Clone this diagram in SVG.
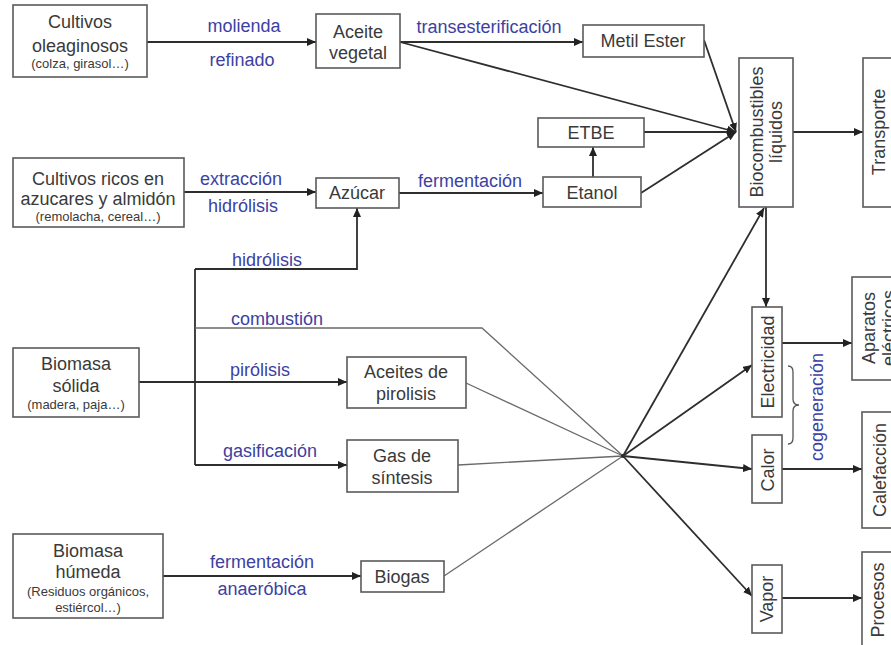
<svg xmlns="http://www.w3.org/2000/svg" width="891" height="645" viewBox="0 0 891 645">
<defs>
  <marker id="arr" viewBox="0 0 9 8" refX="9" refY="4" markerWidth="9" markerHeight="8" markerUnits="userSpaceOnUse" orient="auto">
    <path d="M0,0 L9,4 L0,8 z" fill="#222"/>
  </marker>
  <style>
    .box { fill: #fff; stroke: #5a5a5a; stroke-width: 1.6; }
    text { font-family: "Liberation Sans", Arial, Helvetica, sans-serif; font-size: 18px; fill: #3a3a3a; text-anchor: middle; }
    .s { font-size: 13px; }
    .lbl { fill: #3c41a3; }
    .ln { fill: none; stroke: #2e2e2e; stroke-width: 1.8; }
    .thin { fill: none; stroke: #6a6a6a; stroke-width: 1.3; }
  </style>
</defs>
<rect width="891" height="645" fill="#fff"/>

<!-- connectors -->
<g id="connectors">
  <!-- oil crops chain -->
  <line class="ln" x1="147" y1="42" x2="316" y2="42" marker-end="url(#arr)"/>
  <line class="ln" x1="400" y1="42" x2="583" y2="42" marker-end="url(#arr)"/>
  <line class="ln" x1="400" y1="42" x2="736" y2="132" marker-end="url(#arr)"/>
  <line class="ln" x1="704" y1="40" x2="736" y2="132" marker-end="url(#arr)"/>
  <!-- sugar chain -->
  <line class="ln" x1="184" y1="192" x2="316" y2="192" marker-end="url(#arr)"/>
  <line class="ln" x1="399" y1="193" x2="543" y2="193" marker-end="url(#arr)"/>
  <line class="ln" x1="593" y1="177" x2="593" y2="147" marker-end="url(#arr)"/>
  <line class="ln" x1="644" y1="132" x2="736" y2="132" marker-end="url(#arr)"/>
  <line class="ln" x1="641" y1="193" x2="736" y2="132" marker-end="url(#arr)"/>
  <!-- liquid biofuels to transport / electricity -->
  <line class="ln" x1="793" y1="132" x2="863" y2="132" marker-end="url(#arr)"/>
  <line class="ln" x1="766" y1="207" x2="766" y2="307" marker-end="url(#arr)"/>
  <!-- solid biomass trunk -->
  <line class="ln" x1="139" y1="382" x2="195" y2="382"/>
  <path class="ln" d="M195,269 L195,465"/>
  <path class="ln" d="M195,269 L357,269 L357,208" marker-end="url(#arr)"/>
  <line class="ln" x1="195" y1="382" x2="347" y2="382" marker-end="url(#arr)"/>
  <line class="ln" x1="195" y1="465" x2="347" y2="465" marker-end="url(#arr)"/>
  <path class="thin" d="M195,328 L482,328 L623,456"/>
  <!-- wet biomass -->
  <line class="ln" x1="163" y1="576" x2="361" y2="576" marker-end="url(#arr)"/>
  <!-- into the combustion hub -->
  <line class="thin" x1="466" y1="383" x2="623" y2="456"/>
  <line class="thin" x1="458" y1="465" x2="623" y2="456"/>
  <line class="thin" x1="444" y1="576" x2="623" y2="456"/>
  <circle cx="623" cy="456" r="2" fill="#222"/>
  <!-- out of the combustion hub -->
  <line class="ln" x1="623" y1="456" x2="764" y2="208" marker-end="url(#arr)"/>
  <line class="ln" x1="623" y1="456" x2="752" y2="365" marker-end="url(#arr)"/>
  <line class="ln" x1="623" y1="456" x2="752" y2="469" marker-end="url(#arr)"/>
  <line class="ln" x1="623" y1="456" x2="752" y2="596" marker-end="url(#arr)"/>
  <!-- uses -->
  <line class="ln" x1="782" y1="343" x2="852" y2="343" marker-end="url(#arr)"/>
  <line class="ln" x1="782" y1="469" x2="862" y2="469" marker-end="url(#arr)"/>
  <line class="ln" x1="782" y1="598" x2="862" y2="598" marker-end="url(#arr)"/>
  <!-- cogeneration brace -->
  <path d="M788,366 Q793,366 793,372 L793,399 Q793,405 799,405 Q793,405 793,411 L793,438 Q793,444 788,444" fill="none" stroke="#555" stroke-width="1.3"/>
</g>

<!-- process labels -->
<g id="labels">
  <text class="lbl" x="244" y="32">molienda</text>
  <text class="lbl" x="242" y="66">refinado</text>
  <text class="lbl" x="489" y="33">transesterificación</text>
  <text class="lbl" x="241" y="185">extracción</text>
  <text class="lbl" x="243" y="212">hidrólisis</text>
  <text class="lbl" x="470" y="187">fermentación</text>
  <text class="lbl" x="267" y="266">hidrólisis</text>
  <text class="lbl" x="277" y="325">combustión</text>
  <text class="lbl" x="260" y="376">pirólisis</text>
  <text class="lbl" x="270" y="457">gasificación</text>
  <text class="lbl" x="262" y="568">fermentación</text>
  <text class="lbl" x="262" y="595">anaeróbica</text>
  <text class="lbl" transform="translate(823,407) rotate(-90)">cogeneración</text>
</g>

<g id="cultivos-oleaginosos">
  <rect class="box" x="13" y="5" width="134" height="72"/>
  <text x="80" y="28">Cultivos</text>
  <text x="80" y="52">oleaginosos</text>
  <text class="s" x="80" y="68">(colza, girasol…)</text>
</g>
<g id="aceite-vegetal">
  <rect class="box" x="316" y="14" width="84" height="54"/>
  <text x="358" y="38">Aceite</text>
  <text x="358" y="59">vegetal</text>
</g>
<g id="metil-ester">
  <rect class="box" x="583" y="25" width="121" height="32"/>
  <text x="643" y="47">Metil Ester</text>
</g>
<g id="biocombustibles">
  <rect class="box" x="739" y="58" width="54" height="149"/>
  <text transform="translate(763,132) rotate(-90)">Biocombustibles</text>
  <text transform="translate(782,132) rotate(-90)">líquidos</text>
</g>
<g id="transporte">
  <rect class="box" x="863" y="58" width="40" height="149"/>
  <text transform="translate(885,132) rotate(-90)">Transporte</text>
</g>
<g id="cultivos-azucares">
  <rect class="box" x="13" y="158" width="171" height="69"/>
  <text x="98" y="185">Cultivos ricos en</text>
  <text x="98" y="205">azucares y almidón</text>
  <text class="s" x="98" y="221">(remolacha, cereal…)</text>
</g>
<g id="azucar">
  <rect class="box" x="316" y="178" width="83" height="30"/>
  <text x="357" y="199">Azúcar</text>
</g>
<g id="etbe">
  <rect class="box" x="538" y="118" width="106" height="29"/>
  <text x="591" y="139">ETBE</text>
</g>
<g id="etanol">
  <rect class="box" x="543" y="177" width="98" height="30"/>
  <text x="592" y="199">Etanol</text>
</g>
<g id="biomasa-solida">
  <rect class="box" x="13" y="348" width="126" height="69"/>
  <text x="76" y="370">Biomasa</text>
  <text x="76" y="392">sólida</text>
  <text class="s" x="76" y="409">(madera, paja…)</text>
</g>
<g id="aceites-pirolisis">
  <rect class="box" x="347" y="357" width="119" height="51"/>
  <text x="406" y="378">Aceites de</text>
  <text x="406" y="400">pirolisis</text>
</g>
<g id="gas-sintesis">
  <rect class="box" x="347" y="440" width="111" height="52"/>
  <text x="402" y="462">Gas de</text>
  <text x="402" y="484">síntesis</text>
</g>
<g id="biomasa-humeda">
  <rect class="box" x="13" y="534" width="150" height="84"/>
  <text x="88" y="557">Biomasa</text>
  <text x="88" y="578">húmeda</text>
  <text class="s" x="88" y="596">(Residuos orgánicos,</text>
  <text class="s" x="88" y="612">estiércol…)</text>
</g>
<g id="biogas">
  <rect class="box" x="361" y="561" width="83" height="31"/>
  <text x="402" y="583">Biogas</text>
</g>
<g id="electricidad">
  <rect class="box" x="752" y="307" width="30" height="110"/>
  <text transform="translate(774,362) rotate(-90)">Electricidad</text>
</g>
<g id="aparatos">
  <rect class="box" x="852" y="277" width="50" height="103"/>
  <text transform="translate(875,328) rotate(-90)">Aparatos</text>
  <text transform="translate(895,328) rotate(-90)">eléctricos</text>
</g>
<g id="calor">
  <rect class="box" x="752" y="435" width="30" height="68"/>
  <text transform="translate(774,470) rotate(-90)">Calor</text>
</g>
<g id="calefaccion">
  <rect class="box" x="862" y="412" width="40" height="116"/>
  <text transform="translate(886,470) rotate(-90)">Calefacción</text>
</g>
<g id="vapor">
  <rect class="box" x="752" y="565" width="30" height="68"/>
  <text transform="translate(773,599) rotate(-90)">Vapor</text>
</g>
<g id="procesos">
  <rect class="box" x="862" y="552" width="40" height="100"/>
  <text transform="translate(884,600) rotate(-90)">Procesos</text>
</g>
</svg>
